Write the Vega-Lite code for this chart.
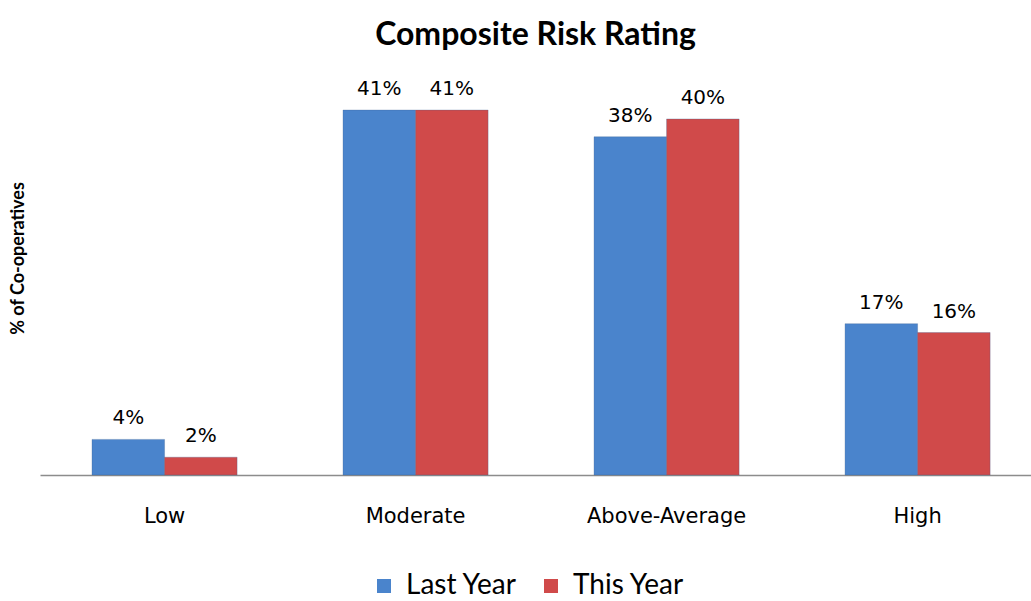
{
  "$schema": "https://vega.github.io/schema/vega-lite/v6.json",
  "autosize": "none",
  "width": 991,
  "height": 405,
  "padding": {"left": 40, "top": 70, "right": 0, "bottom": 126},
  "background": "white",
  "title": {
    "text": "Composite Risk Rating",
    "font": "Lato",
    "fontSize": 32,
    "fontWeight": "bold",
    "color": "#000000",
    "anchor": "middle",
    "offset": 18
  },
  "data": {
    "values": [
      {"category": "Low", "series": "Last Year", "value": 4},
      {"category": "Low", "series": "This Year", "value": 2},
      {"category": "Moderate", "series": "Last Year", "value": 41},
      {"category": "Moderate", "series": "This Year", "value": 41},
      {"category": "Above-Average", "series": "Last Year", "value": 38},
      {"category": "Above-Average", "series": "This Year", "value": 40},
      {"category": "High", "series": "Last Year", "value": 17},
      {"category": "High", "series": "This Year", "value": 16}
    ]
  },
  "encoding": {
    "x": {
      "field": "category",
      "type": "nominal",
      "sort": ["Low", "Moderate", "Above-Average", "High"],
      "scale": {"paddingInner": 0.422, "paddingOuter": 0.185, "align": 0.56},
      "axis": {
        "title": null,
        "labelAngle": 0,
        "labelFont": "DejaVu Sans",
        "labelFontSize": 21,
        "labelColor": "#000000",
        "labelPadding": 30,
        "ticks": false,
        "domainColor": "#8c8c8c",
        "domainWidth": 1.5
      }
    },
    "xOffset": {"field": "series", "type": "nominal", "sort": ["Last Year", "This Year"]},
    "y": {
      "field": "value",
      "type": "quantitative",
      "scale": {"domain": [0, 45.5], "nice": false},
      "axis": {
        "title": "% of Co-operatives",
        "titleFont": "Lato",
        "titleFontSize": 18,
        "titleFontWeight": "bold",
        "titleColor": "#000000",
        "titleX": -13,
        "titleY": 188,
        "labels": false,
        "ticks": false,
        "domain": false,
        "grid": false
      }
    }
  },
  "layer": [
    {
      "mark": {"type": "bar", "stroke": "#3a5f8f", "strokeWidth": 0.5, "strokeOpacity": 0.6},
      "encoding": {
        "color": {
          "field": "series",
          "type": "nominal",
          "scale": {"domain": ["Last Year", "This Year"], "range": ["#4a84cc", "#d04a4a"]},
          "legend": {
            "title": null,
            "orient": "none",
            "direction": "horizontal",
            "legendX": 330,
            "legendY": 502,
            "symbolType": "square",
            "symbolSize": 196,
            "symbolStrokeWidth": 0,
            "labelFont": "Lato",
            "labelFontSize": 28,
            "labelColor": "#000000",
            "columnPadding": 20,
            "labelOffset": 8
          }
        }
      }
    },
    {
      "transform": [{"calculate": "datum.value + '%'", "as": "lbl"}],
      "mark": {"type": "text", "baseline": "alphabetic", "dy": -15, "font": "DejaVu Sans", "fontSize": 20, "color": "#000000"},
      "encoding": {
        "text": {"field": "lbl", "type": "nominal"},
        "detail": {"field": "series"}
      }
    }
  ],
  "config": {"view": {"stroke": null}}
}
